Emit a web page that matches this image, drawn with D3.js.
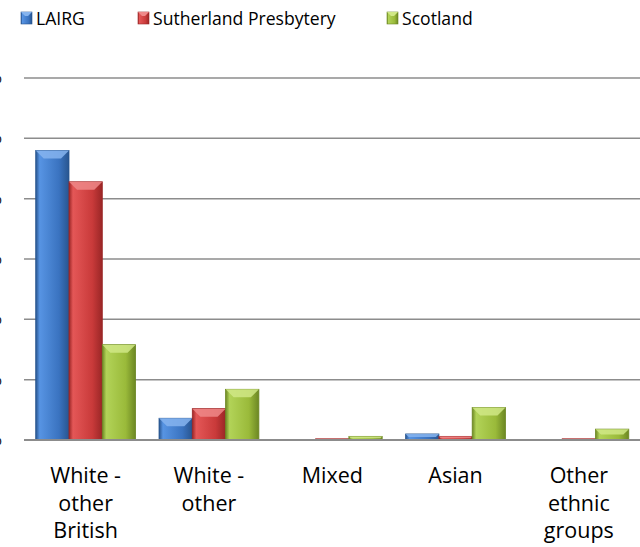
<!DOCTYPE html>
<html>
<head>
<meta charset="utf-8">
<script src="https://cdn.jsdelivr.net/npm/d3@7"></script>
<style>
  body { margin: 0; background: #fff; }
  svg { font-family: "Open Sans", "Noto Sans", sans-serif; }
</style>
</head>
<body>
<div id="chart"></div>
<script>
// data (percent of population)
const categories = ["White - other British", "White - other", "Mixed", "Asian", "Other ethnic groups"]
const catLines = [["White -", "other", "British"], ["White -", "other"], ["Mixed"], ["Asian"], ["Other", "ethnic", "groups"]]
const seriesNames = ["LAIRG", "Sutherland Presbytery", "Scotland"]
const lairg = [24.0, 1.8, 0, 0.5, 0]
const sutherland = [21.4, 2.6, 0.1, 0.3, 0.1]
const scotland = [7.9, 4.2, 0.3, 2.7, 0.9]
const yTicks = [0, 5, 10, 15, 20, 25, 30]

const seriesValues = [lairg, sutherland, scotland]
const colors = [
  { light: "#5794e3", mid: "#3a73c0", dark: "#28558f", top: "#86b4ee" },
  { light: "#e45757", mid: "#c93a3a", dark: "#9a2626", top: "#ef8888" },
  { light: "#b2d358", mid: "#9aba3a", dark: "#6c8723", top: "#d0e886" }
]

const W = 640, H = 547
const left = 24, right = 640.5, baseY = 440, topY = 78

const svg = d3.select("#chart").append("svg")
  .attr("width", W).attr("height", H)

const defs = svg.append("defs")
colors.forEach((c, i) => {
  const g = defs.append("linearGradient").attr("id", "grad" + i)
    .attr("x1", "0%").attr("x2", "100%").attr("y1", "0%").attr("y2", "0%")
  g.append("stop").attr("offset", "0%").attr("stop-color", c.dark)
  g.append("stop").attr("offset", "12%").attr("stop-color", c.light)
  g.append("stop").attr("offset", "70%").attr("stop-color", c.mid)
  g.append("stop").attr("offset", "100%").attr("stop-color", c.dark)
})

const y = d3.scaleLinear().domain([0, 30]).range([baseY, topY])
const x0 = d3.scaleBand().domain(categories).range([left, right]).padding(0)
const gap = x0.bandwidth() * 0.19
const x1 = d3.scaleBand().domain(seriesNames).range([gap / 2, x0.bandwidth() - gap / 2]).padding(0)

// grid lines
svg.append("g").selectAll("line")
  .data(yTicks.slice(1))
  .join("line")
    .attr("x1", left).attr("x2", W)
    .attr("y1", d => y(d)).attr("y2", d => y(d))
    .attr("stroke", "#8c8c8c").attr("stroke-width", 1.5)

// y tick labels (mostly cut off at the left edge, as in the source)
svg.append("g").selectAll("text")
  .data(yTicks)
  .join("text")
    .attr("x", 2).attr("y", d => y(d) + 5)
    .attr("text-anchor", "end")
    .attr("font-size", 16).attr("fill", "#000")
    .text(d => d + "%")

// bars
const rows = []
categories.forEach((c, ci) => {
  seriesNames.forEach((s, si) => {
    rows.push({ cat: c, ser: s, si: si, v: seriesValues[si][ci] })
  })
})

const bars = svg.append("g").selectAll("g")
  .data(rows.filter(d => d.v > 0))
  .join("g")
    .attr("transform", d => `translate(${x0(d.cat) + x1(d.ser)},0)`)

bars.append("rect")
  .attr("x", 0)
  .attr("y", d => y(d.v))
  .attr("width", x1.bandwidth())
  .attr("height", d => baseY - y(d.v))
  .attr("fill", d => `url(#grad${d.si})`)
  .attr("stroke", d => colors[d.si].dark)
  .attr("stroke-width", 0.8)

// bevel highlight on top of each bar
bars.append("path")
  .attr("d", d => {
    const w = x1.bandwidth(), t = y(d.v)
    const h = Math.min(8, (baseY - t) / 2)
    return `M0,${t} L${w},${t} L${w - h},${t + h} L${h},${t + h} Z`
  })
  .attr("fill", d => colors[d.si].top)
  .attr("opacity", 0.85)

// base line
svg.append("line")
  .attr("x1", left).attr("x2", W)
  .attr("y1", baseY).attr("y2", baseY)
  .attr("stroke", "#8c8c8c").attr("stroke-width", 2)

// category labels
const labels = svg.append("g").selectAll("text")
  .data(categories)
  .join("text")
    .attr("x", d => x0(d) + x0.bandwidth() / 2)
    .attr("y", 483)
    .attr("text-anchor", "middle")
    .attr("font-size", 21.5).attr("fill", "#000")
labels.each(function(d, i) {
  d3.select(this).selectAll("tspan")
    .data(catLines[i])
    .join("tspan")
      .attr("x", x0(d) + x0.bandwidth() / 2)
      .attr("dy", (t, j) => j === 0 ? 0 : 27.5)
      .text(t => t)
})

// legend
const legendX = [21, 138, 387]
const legend = svg.append("g").selectAll("g")
  .data(seriesNames)
  .join("g")
    .attr("transform", (d, i) => `translate(${legendX[i]},12)`)
legend.append("rect")
  .attr("width", 11).attr("height", 12)
  .attr("fill", (d, i) => `url(#grad${i})`)
  .attr("stroke", (d, i) => colors[i].dark).attr("stroke-width", 0.6)
legend.append("path")
  .attr("d", "M0,0 L11,0 L7,4 L4,4 Z")
  .attr("fill", (d, i) => colors[i].top)
legend.append("text")
  .attr("x", 15).attr("y", 12.5)
  .attr("font-size", 17.6).attr("fill", "#000")
  .text(d => d)
</script>
</body>
</html>
